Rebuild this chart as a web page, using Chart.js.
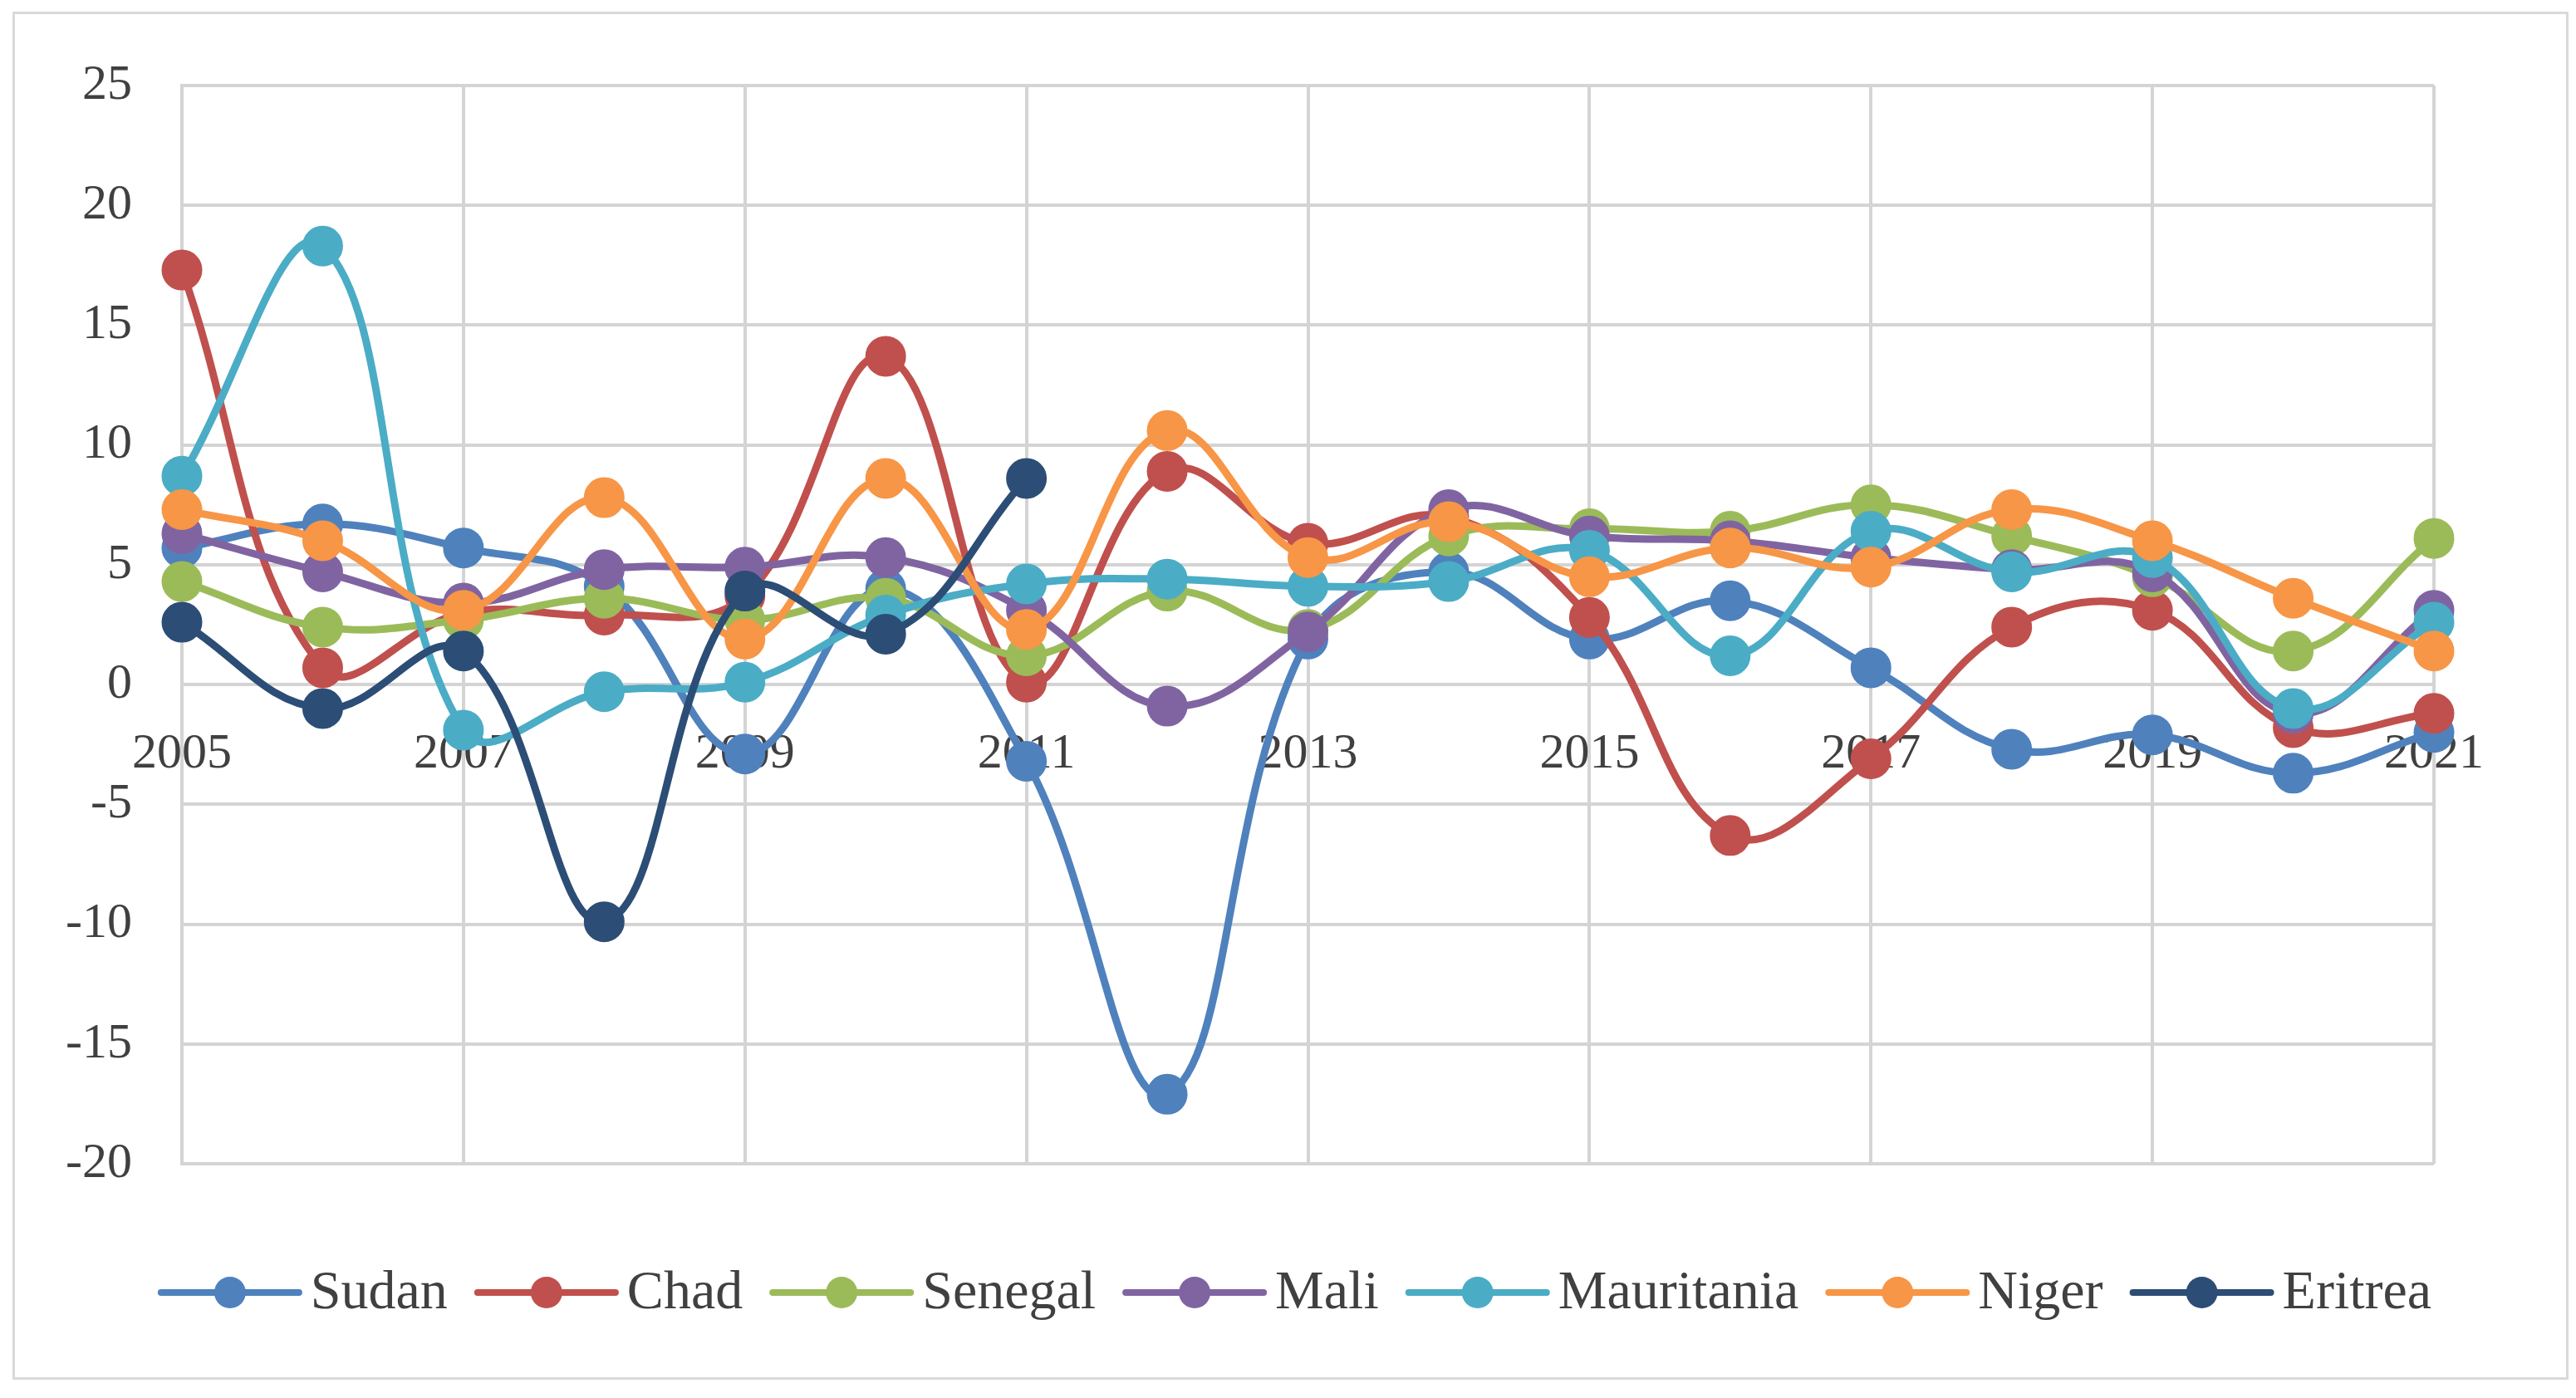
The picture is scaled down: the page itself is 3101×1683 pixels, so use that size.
<!DOCTYPE html>
<html>
<head>
<meta charset="utf-8">
<script src="https://cdn.jsdelivr.net/npm/chart.js@4"></script>
<style>
  html, body { margin: 0; padding: 0; background: #fff; }
  #wrap { position: relative; width: 3101px; height: 1683px; }
  #frame { position: absolute; left: 15px; top: 14px; width: 3071px; height: 1641px; border: 3px solid #d9d9d9; }
  canvas { position: absolute; left: 0; top: 0; }
</style>
</head>
<body>
<div id="wrap">
  <div id="frame"></div>
  <canvas id="grafico" width="3101" height="1683"></canvas>
</div>
<script>
// dados
const anos = ['2005','2006','2007','2008','2009','2010','2011','2012','2013','2014','2015','2016','2017','2018','2019','2020','2021'];
const sudan      = [5.7, 6.7, 5.7, 4.1, -2.9, 4.0, -3.2, -17.1, 1.9, 4.7, 1.9, 3.5, 0.7, -2.7, -2.1, -3.7, -2.0];
const chad       = [17.3, 0.7, 3.0, 2.9, 3.7, 13.7, 0.1, 8.9, 5.9, 7.0, 2.8, -6.3, -3.1, 2.4, 3.1, -1.8, -1.2];
const senegal    = [4.3, 2.4, 2.7, 3.6, 2.7, 3.6, 1.2, 3.9, 2.3, 6.2, 6.5, 6.4, 7.5, 6.2, 4.5, 1.4, 6.1];
const mali       = [6.3, 4.7, 3.4, 4.8, 4.9, 5.3, 3.1, -0.9, 2.2, 7.3, 6.2, 6.0, 5.3, 4.8, 4.7, -1.2, 3.1];
const mauritania = [8.7, 18.3, -1.9, -0.3, 0.1, 2.9, 4.2, 4.4, 4.1, 4.3, 5.6, 1.2, 6.4, 4.7, 5.3, -1.0, 2.6];
const niger      = [7.3, 6.0, 3.1, 7.8, 1.9, 8.6, 2.3, 10.6, 5.3, 6.8, 4.5, 5.7, 4.9, 7.3, 6.0, 3.6, 1.4];
const eritrea    = [2.6, -1.0, 1.4, -9.9, 3.9, 2.1, 8.6, null, null, null, null, null, null, null, null, null, null];

const series = [
  { label: 'Sudan', data: sudan, color: '#4f81bd' },
  { label: 'Chad', data: chad, color: '#c0504d' },
  { label: 'Senegal', data: senegal, color: '#9bbb59' },
  { label: 'Mali', data: mali, color: '#8064a2' },
  { label: 'Mauritania', data: mauritania, color: '#4bacc6' },
  { label: 'Niger', data: niger, color: '#f79646' },
  { label: 'Eritrea', data: eritrea, color: '#2c4d75' },
];

const corTexto = '#404040';
const corGrade = '#d4d4d4';
const fonte = 'Liberation Serif, Times New Roman, serif';

// legenda desenhada à mão: linha + círculo + texto
const legendaPlugin = {
  id: 'legendaExcel',
  afterDraw(chart) {
    const ctx = chart.ctx;
    const linha = 166, gapTexto = 14, gapItem = 36, raio = 19, y = 1556;
    ctx.save();
    ctx.font = '66px ' + fonte;
    const itens = chart.data.datasets.map(ds => ({ ds, w: ctx.measureText(ds.label).width }));
    const total = itens.reduce((s, it) => s + linha + gapTexto + it.w, 0) + gapItem * (itens.length - 1);
    let x = (chart.width - total) / 2 + 10;
    itens.forEach(({ ds, w }) => {
      ctx.strokeStyle = ds.borderColor;
      ctx.lineWidth = 8;
      ctx.lineCap = 'round';
      ctx.beginPath();
      ctx.moveTo(x, y);
      ctx.lineTo(x + linha, y);
      ctx.stroke();
      ctx.fillStyle = ds.borderColor;
      ctx.beginPath();
      ctx.arc(x + linha / 2, y, raio, 0, Math.PI * 2);
      ctx.fill();
      ctx.fillStyle = corTexto;
      ctx.textBaseline = 'middle';
      ctx.textAlign = 'left';
      ctx.fillText(ds.label, x + linha + gapTexto, y + 2);
      x += linha + gapTexto + w + gapItem;
    });
    ctx.restore();
  }
};

new Chart(document.getElementById('grafico'), {
  type: 'line',
  data: {
    labels: anos,
    datasets: series.map((s, i) => ({
      label: s.label,
      data: s.data,
      borderColor: s.color,
      backgroundColor: s.color,
      pointBackgroundColor: s.color,
      pointBorderColor: s.color,
      borderWidth: 9,
      pointRadius: 20,
      pointHoverRadius: 20,
      tension: 0.4,
      spanGaps: false,
      order: series.length - i,
    })),
  },
  options: {
    responsive: false,
    animation: false,
    devicePixelRatio: 1,
    layout: { padding: { top: 103, right: 171, bottom: 282, left: 0 } },
    plugins: {
      legend: { display: false },
      tooltip: { enabled: false },
    },
    scales: {
      x: {
        position: { y: 0 },
        grid: { color: corGrade, lineWidth: 4, drawTicks: false },
        border: { color: corGrade, width: 4 },
        ticks: {
          color: corTexto,
          font: { family: fonte, size: 60 },
          padding: 48,
          maxRotation: 0,
          autoSkip: false,
          callback: (v, i) => (i % 2 === 0 ? anos[i] : null),
        },
      },
      y: {
        min: -20,
        max: 25,
        afterFit: s => { s.width = 219; },
        grid: { color: corGrade, lineWidth: 4, drawTicks: false },
        border: { color: corGrade, width: 4 },
        ticks: {
          stepSize: 5,
          color: corTexto,
          font: { family: fonte, size: 60 },
          padding: 60,
        },
      },
    },
  },
  plugins: [legendaPlugin],
});
</script>
</body>
</html>
